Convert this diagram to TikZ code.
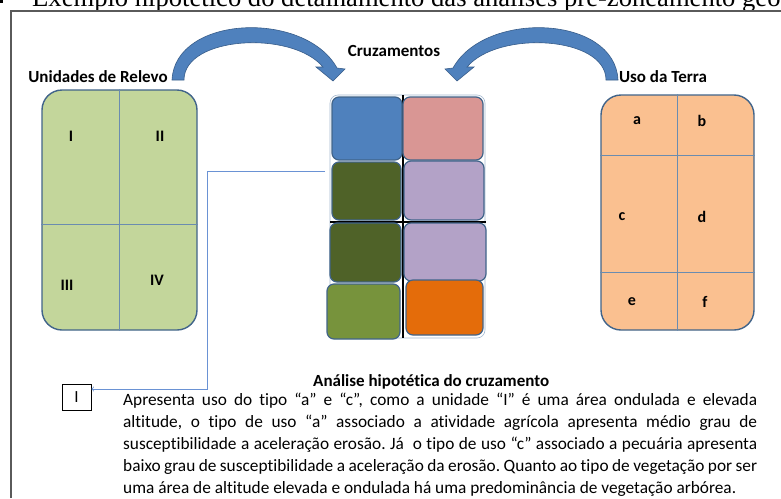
\documentclass[tikz,border=0pt]{standalone}
\usepackage{fontspec}
\setmainfont{Carlito}[Ligatures=NoCommon]
\newfontfamily\capfont{Liberation Serif}
\usepackage{tikz}
\usetikzlibrary{arrows,positioning}
\definecolor{azul}{HTML}{4F81BD}
\definecolor{rosa}{HTML}{D99694}
\definecolor{verdeesc}{HTML}{4F6228}
\definecolor{lilas}{HTML}{B3A2C7}
\definecolor{verdeoliva}{HTML}{77933C}
\definecolor{laranja}{HTML}{E46C0A}
\definecolor{verdeclaro}{HTML}{C3D69B}
\definecolor{pessego}{HTML}{FAC090}
\definecolor{borda}{HTML}{41648A}
\definecolor{divisor}{HTML}{6A8CB0}
\definecolor{setaborda}{HTML}{385D8A}
\definecolor{conector}{HTML}{6A92D4}
\definecolor{moldura}{HTML}{5A5A5A}

\begin{document}
\begin{tikzpicture}[x=1pt,y=-1pt,
    caixa/.style={draw=borda,line width=1.4pt,rounded corners=20pt,inner sep=0pt},
    celula/.style={draw=borda,line width=1.2pt,rounded corners=7pt,inner sep=0pt},
    divisao/.style={divisor,line width=0.9pt},
    letra/.style={font=\fontsize{16}{16}\selectfont\bfseries},
    titulo/.style={font=\fontsize{17}{17}\selectfont\bfseries},
    seta/.style={fill=azul,draw=setaborda,line width=0.6pt}]
      \useasboundingbox (0,0) rectangle (781,498);
      \clip (0,0) rectangle (781,498);
      \fill[white] (0,0) rectangle (781,498);
      % legenda cortada no topo
      \fill (-8,-6) rectangle (3,3);
      \node[anchor=base west,inner sep=0pt,font=\capfont\fontsize{26.6}{30}\selectfont] (legenda) at (32,6) {Exemplo hipotético do detalhamento das análises pré-zoneamento geoambiental};
      \draw[moldura,line width=1.3pt] (11,498) -- (11,11) -- (790,11);
      % titulos
      \node[titulo] (tRelevo) at (98,77) {Unidades de Relevo};
      \node[titulo] (tCruz) at (394,51) {Cruzamentos};
      \node[titulo] (tUso) at (663,77) {Uso da Terra};
      % setas curvas
      \path[seta] (172,80) .. controls (175,15) and (305,10) .. (337,68) -- (345,69) -- (333,81) -- (316,67) -- (323,67) .. controls (292,30) and (184,36) .. (184,80) -- cycle;
      \path[seta] (618,80) .. controls (615,15) and (485,10) .. (453,68) -- (445,69) -- (457,81) -- (474,67) -- (467,67) .. controls (498,30) and (606,36) .. (606,80) -- cycle;
      % unidades de relevo
      \node[caixa,fill=verdeclaro,minimum width=155pt,minimum height=240pt] (relevo) at (119.5,210) {};
      \draw[divisao] (relevo.north) -- (relevo.south);
      \draw[divisao] (relevo.west |- 0,224) -- (relevo.east |- 0,224);
      \node[letra] (uI) at (71,136) {I};
      \node[letra] (uII) at (160,136) {II};
      \node[letra] (uIII) at (67,285) {III};
      \node[letra] (uIV) at (157,280) {IV};
      % uso da terra
      \node[caixa,fill=pessego,minimum width=153pt,minimum height=235pt] (uso) at (677.5,212.5) {};
      \draw[divisao] (uso.north) -- (uso.south);
      \draw[divisao] (uso.west |- 0,155) -- (uso.east |- 0,155);
      \draw[divisao] (uso.west |- 0,272) -- (uso.east |- 0,272);
      \node[letra] (ua) at (637,121) {a};
      \node[letra] (ub) at (702,121) {b};
      \node[letra] (uc) at (622,217) {c};
      \node[letra] (ud) at (702,217) {d};
      \node[letra] (ue) at (632,302) {e};
      \node[letra] (uf) at (705,302) {f};
      % cruzamentos
      \node[draw=divisor!60,line width=0.6pt,rounded corners=8pt,minimum width=155pt,minimum height=243pt] (cz) at (407.5,216.5) {};
      \draw[line width=2pt] (403,95) -- (403,338);
      \draw[line width=2pt] (330,222) -- (486,222);
      \node[celula,fill=azul,minimum width=70pt,minimum height=63pt] (c1) at (367,128.5) {};
      \node[celula,fill=rosa,minimum width=80pt,minimum height=63pt] (c2) at (443,128.5) {};
      \node[celula,fill=verdeesc,minimum width=69pt,minimum height=58pt] (c3) at (366.5,191) {};
      \node[celula,fill=lilas,minimum width=80pt,minimum height=59pt] (c4) at (444,190.5) {};
      \node[celula,fill=verdeesc,minimum width=71pt,minimum height=59pt] (c5) at (365.5,252.5) {};
      \node[celula,fill=lilas,minimum width=82pt,minimum height=58pt] (c6) at (445,252) {};
      \node[celula,fill=verdeoliva,minimum width=73pt,minimum height=55pt] (c7) at (363.5,311.5) {};
      \node[celula,fill=laranja,minimum width=77pt,minimum height=55pt] (c8) at (444.5,307.5) {};
      % analise
      \node[draw=black,line width=0.8pt,minimum width=29pt,minimum height=26pt,inner sep=0pt,font=\fontsize{17}{17}\selectfont] (boxI) at (76.5,397) {I};
      \coordinate (cstart) at (325,171);
      \coordinate (dobra) at (207,389);
      \draw[conector,line width=0.8pt,->] (cstart) -| (dobra) -- (dobra -| boxI.east);
      \node[titulo,anchor=base west,inner sep=0pt] (analise) at (313,386) {Análise hipotética do cruzamento};
      \node[anchor=north west,inner sep=0pt,text width=634pt,align=left,font=\fontsize{17.3}{22}\selectfont] (texto) at (123,393) {\spaceskip=0pt \xspaceskip=0pt \frenchspacing
        \makebox[634pt][s]{Apresenta uso do tipo “a” e “c”, como a unidade “I” é uma área ondulada e elevada}\\
        \makebox[634pt][s]{altitude, o tipo de uso “a” associado a atividade agrícola apresenta médio grau de}\\
        \makebox[634pt][s]{susceptibilidade a aceleração erosão. Já~ o tipo de uso “c” associado a pecuária apresenta}\\
        \makebox[634pt][s]{baixo grau de susceptibilidade a aceleração da erosão. Quanto ao tipo de vegetação por ser}\\
        uma área de altitude elevada e ondulada há uma predominância de vegetação arbórea.};
\end{tikzpicture}
\end{document}
